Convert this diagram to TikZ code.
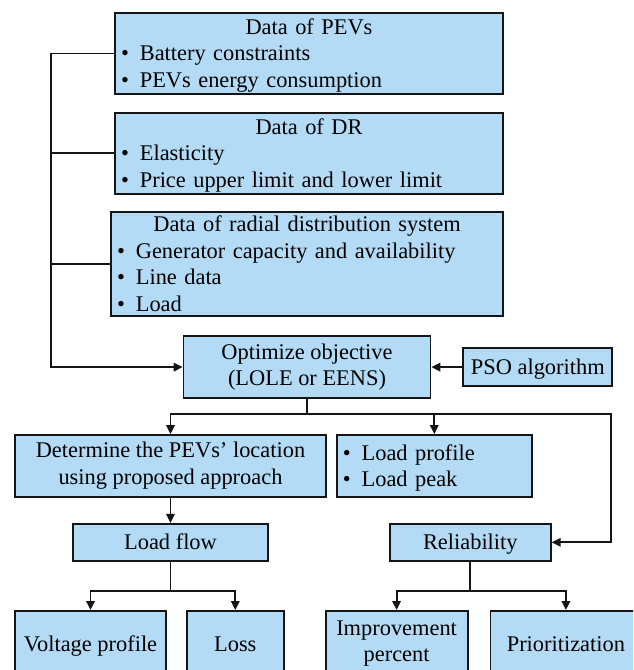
\documentclass[tikz,border=0pt]{standalone}
\usepackage{fontspec}
\setmainfont{Liberation Serif}
\usetikzlibrary{arrows.meta,positioning,calc}
\definecolor{FlowBlue}{HTML}{B3DBF5}
\definecolor{FlowLine}{HTML}{151515}
\newcommand{\bul}{\textbullet\hspace{11pt}}
\newcommand{\boxhead}[1]{\hfill#1\hfill\null}
\newcommand{\upstrut}{\noindent\rule{0pt}{20pt}}
\newcommand{\downstrut}{\rule[-5.2pt]{0pt}{5.2pt}}

\begin{document}
\begin{tikzpicture}[
  x=1pt,y=1pt,
  box/.style={draw=FlowLine,fill=FlowBlue,line width=1.8pt,inner xsep=6pt,inner ysep=0pt,
    font=\fontsize{22.4}{26.5}\selectfont,execute at begin node=\upstrut,execute at end node=\downstrut},
  listbox/.style={box,align=left},
  stepbox/.style={box,align=center},
  arrow/.style={-{Triangle[length=9pt,width=8.5pt]},line width=1.8pt,draw=FlowLine},
  link/.style={line width=1.8pt,draw=FlowLine}
]
\useasboundingbox (0,0) rectangle (633,-670);
\clip (0,0) rectangle (633,-670);
% input data
\node[listbox,text width=376pt,minimum height=81pt] (pevs) at (309,-53.5) {\boxhead{Data of PEVs}\\\bul Battery constraints\\\bul PEVs energy consumption};
\node[listbox,text width=376pt,minimum height=81pt,below=17pt of pevs] (dr) {\boxhead{Data of DR}\\\bul Elasticity\\\bul Price upper limit and lower limit};
\node[listbox,text width=380pt,minimum height=104pt,below=16pt of dr.south east,anchor=north east] (rds) {\boxhead{Data of radial distribution system}\\\bul Generator capacity and availability\\\bul Line data\\\bul Load};
% optimisation
\node[stepbox,minimum width=247pt,minimum height=62pt,below=18pt of rds] (opt) {Optimize objective\\(LOLE or EENS)};
\node[stepbox,minimum width=149pt,minimum height=38pt,right=31pt of opt] (pso) {PSO algorithm};
% results
\node[stepbox,minimum width=311pt,minimum height=62pt] (det) at (170.5,-466) {Determine the PEVs’ location\\using proposed approach};
\node[listbox,text width=183pt,minimum height=62pt,right=9pt of det] (prof) {\bul Load profile\\\bul Load peak};
\node[stepbox,minimum width=195pt,minimum height=37pt,below=25pt of det] (lflow) {Load flow};
\node[stepbox,minimum width=161pt,minimum height=37pt,right=120pt of lflow] (rel) {Reliability};
\node[stepbox,minimum width=151pt,minimum height=66pt,anchor=north] (volt) at (90.5,-610) {Voltage profile};
\node[stepbox,minimum width=97pt,minimum height=66pt,right=19pt of volt] (loss) {Loss};
\node[stepbox,minimum width=142pt,minimum height=66pt,right=40pt of loss] (impr) {Improvement\\percent};
\node[stepbox,minimum width=151pt,minimum height=66pt,right=21pt of impr] (prio) {Prioritization};
% connectors
\coordinate[left=63pt of pevs.west] (bus);
\draw[arrow] (pevs.west) -- (bus) |- (opt.west);
\draw[link] (dr.west) -- (dr.west -| bus);
\draw[link] (rds.west) -- (rds.west -| bus);
\draw[arrow] (pso) -- (opt);
\coordinate[below=15pt of opt.south] (split);
\coordinate[right=59pt of rel.east] (rbus);
\draw[arrow] (opt.south) -- (split) -| (det.north);
\draw[arrow] (split) -| (prof.north);
\draw[arrow] (split) -| (rbus) -- (rel.east);
\draw[arrow] (det) -- (lflow);
\coordinate[below=29pt of lflow.south] (lsplit);
\draw[arrow] (lflow.south) -- (lsplit) -| (volt.north);
\draw[arrow] (lsplit) -| (loss.north);
\coordinate[below=29pt of rel.south] (rsplit);
\draw[arrow] (rel.south) -- (rsplit) -| (impr.north);
\draw[arrow] (rsplit) -| (prio.north);
\end{tikzpicture}
\end{document}
